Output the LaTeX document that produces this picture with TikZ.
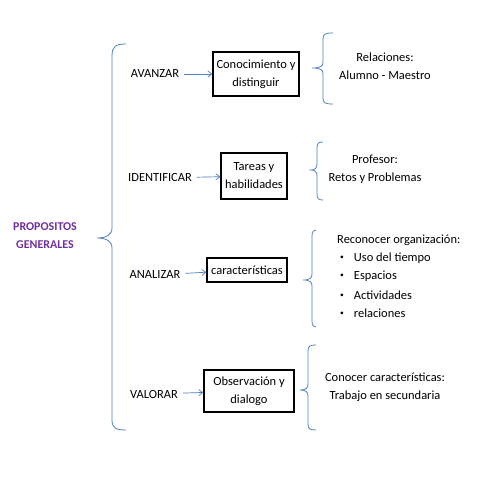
\documentclass[tikz,border=0pt]{standalone}
\usepackage{fontspec}
\setmainfont{Carlito}
\usetikzlibrary{arrows.meta}
\definecolor{braceblue}{HTML}{4F81BD}
\definecolor{purp}{HTML}{7030A0}
\tikzset{
  txt/.style={font=\fontsize{12.5}{18}\selectfont, align=center, inner sep=1pt},
  boxnode/.style={txt, draw=black, line width=1.3pt, inner sep=3pt, minimum height=24bp},
  lbl/.style={txt, outer sep=4bp},
  conn/.style={draw=braceblue, line width=0.7pt, -{Straight Barb[length=4pt,width=6pt]}},
  bracestyle/.style={draw=braceblue, line width=0.8pt},
}
\newcommand{\mybrace}[6]{% xend xvert xtip ytop ytip ybot
  \path[bracestyle] (#1,#4) .. controls ({#2+2},#4) and (#2,{#4+1}) .. (#2,{#4+6})
    -- (#2,{#5-6}) .. controls (#2,{#5-2}) and ({#2-2},#5) .. (#3,#5)
    .. controls ({#2-2},#5) and (#2,{#5+2}) .. (#2,{#5+6})
    -- (#2,{#6-6}) .. controls (#2,{#6-1}) and ({#2+2},#6) .. (#1,#6);}
\newcommand{\bul}{\raisebox{0.25ex}{\scalebox{0.6}{•}}\hspace{10bp}}
\begin{document}
\begin{tikzpicture}[x=1bp,y=-1bp]
\useasboundingbox (0,0) rectangle (480,480);
\fill[white] (0,0) rectangle (480,480);
% title
\node[txt, font=\fontsize{12}{18}\selectfont\bfseries, text=purp] (title) at (45,236) {PROPOSITOS\\GENERALES};
% big brace
\path[bracestyle] (126,44) .. controls (116,44) and (112,46) .. (112,56)
  -- (112,228) .. controls (112,235) and (106,238) .. (97,238)
  .. controls (106,238) and (112,241) .. (112,248)
  -- (112,420) .. controls (112,428) and (116,430) .. (126,430);
% row 1
\node[lbl] (l1) at (155,74) {AVANZAR};
\node[boxnode, minimum width=86bp, minimum height=44bp] (b1) at (256,74) {Conocimiento y\\distinguir};
\draw[conn] (l1) -- (b1);
\mybrace{333}{323}{312}{33}{68}{104}
\node[txt] (r1) at (385,66) {Relaciones:\\Alumno - Maestro};
% row 2
\node[lbl] (l2) at (160,178) {IDENTIFICAR};
\node[boxnode, minimum width=66bp, minimum height=46bp] (b2) at (254,176) {Tareas y\\habilidades};
\draw[conn] (l2) -- (b2);
\mybrace{323}{317}{311}{142}{170}{200}
\node[txt] (r2) at (375,169) {Profesor:\\Retos y Problemas};
% row 3
\node[lbl] (l3) at (155,275) {ANALIZAR};
\node[boxnode, minimum width=80bp, minimum height=24bp] (b3) at (247,270) {características};
\draw[conn] (l3) -- (b3);
\mybrace{316}{312}{303}{230}{280}{327}
\node[txt, anchor=west, align=left] (r3) at (336,240) {Reconocer organización:};
\node[txt, anchor=west] (r3a) at (339,258) {\bul Uso del tiempo};
\node[txt, anchor=west] (r3b) at (339,276) {\bul Espacios};
\node[txt, anchor=west] (r3c) at (339,295) {\bul Actividades};
\node[txt, anchor=west] (r3d) at (339,313) {\bul relaciones};
% row 4
\node[lbl] (l4) at (154,394) {VALORAR};
\node[boxnode, minimum width=90bp, minimum height=42bp] (b4) at (249,391) {Observación y\\dialogo};
\draw[conn] (l4) -- (b4);
\mybrace{316}{308}{300}{345}{390}{430}
\node[txt] (r4) at (385,387) {Conocer características:\\Trabajo en secundaria};
\end{tikzpicture}
\end{document}
